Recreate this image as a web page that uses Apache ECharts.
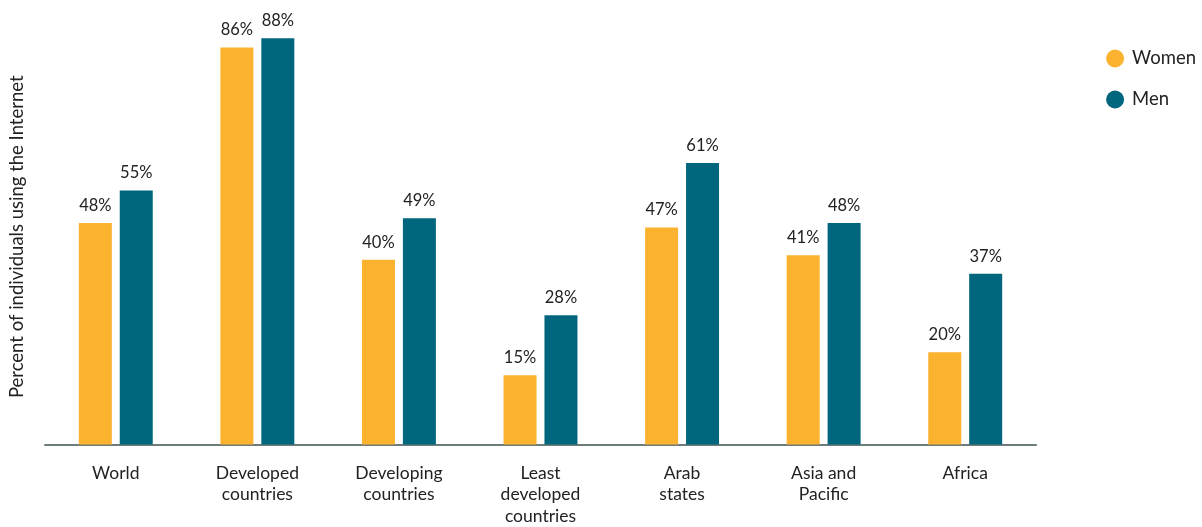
<!DOCTYPE html>
<html><head><meta charset="utf-8">
<script src="https://cdn.jsdelivr.net/npm/echarts@6/dist/echarts.min.js"></script>
<style>html,body{margin:0;padding:0;background:#fff}#c{width:1202px;height:527px}</style>
</head><body><div id="c"></div>
<script>
const categories = ['World', 'Developed\ncountries', 'Developing\ncountries', 'Least\ndeveloped\ncountries', 'Arab\nstates', 'Asia and\nPacific', 'Africa'];
const women = [48, 86, 40, 15, 47, 41, 20];
const men = [55, 88, 49, 28, 61, 48, 37];
const yAxisTitle = 'Percent of individuals using the Internet';
const FONT = 'Lato, "Noto Sans", sans-serif';
const chart = echarts.init(document.getElementById('c'));
const lbl = {show: true, position: 'top', distance: 9, formatter: '{c}%', color: '#222', fontSize: 16.5, fontFamily: FONT};
chart.setOption({
  animation: false,
  grid: {left: 42, right: 166, top: 29, bottom: 76},
  legend: {
    orient: 'vertical', right: 1, top: 44, itemGap: 22, icon: 'circle', itemWidth: 18, itemHeight: 18,
    textStyle: {fontSize: 18.5, color: '#222', fontFamily: FONT, padding: [0, 0, 0, 3]}, data: ['Women', 'Men']
  },
  xAxis: {
    type: 'category', data: categories,
    axisLine: {lineStyle: {color: '#6e7b7b', width: 2}},
    axisTick: {show: false},
    axisLabel: {color: '#222', fontSize: 17.5, fontFamily: FONT, lineHeight: 21.5, margin: 18, interval: 0}
  },
  yAxis: {
    type: 'value', min: 0, max: 90,
    name: yAxisTitle, nameLocation: 'middle', nameGap: 18, nameRotate: 90,
    nameTextStyle: {fontSize: 18.5, color: '#222', fontFamily: FONT},
    axisLine: {show: false}, axisTick: {show: false}, axisLabel: {show: false}, splitLine: {show: false}
  },
  series: [
    {name: 'Women', type: 'bar', data: women, barWidth: 33, barGap: '24%', itemStyle: {color: '#FBB22E'}, label: lbl},
    {name: 'Men', type: 'bar', data: men, barWidth: 33, itemStyle: {color: '#00667D'}, label: lbl}
  ]
});
</script></body></html>
